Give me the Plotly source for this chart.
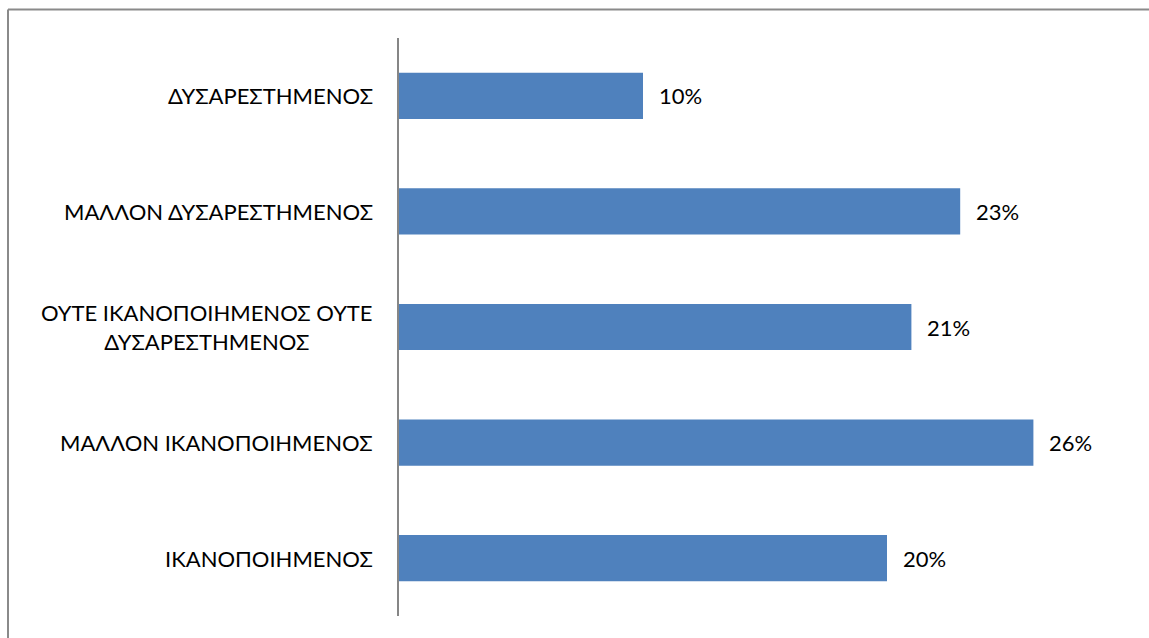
import plotly.graph_objects as go

# Survey satisfaction shares, listed bottom to top
categories = [
    "ΙΚΑΝΟΠΟΙΗΜΕΝΟΣ",
    "ΜΑΛΛΟΝ ΙΚΑΝΟΠΟΙΗΜΕΝΟΣ",
    "ΟΥΤΕ ΙΚΑΝΟΠΟΙΗΜΕΝΟΣ ΟΥΤΕ<br>ΔΥΣΑΡΕΣΤΗΜΕΝΟΣ",
    "ΜΑΛΛΟΝ ΔΥΣΑΡΕΣΤΗΜΕΝΟΣ",
    "ΔΥΣΑΡΕΣΤΗΜΕΝΟΣ",
]
values = [20, 26, 21, 23, 10]
value_labels = ["20%", "26%", "21%", "23%", "10%"]

W, H = 1149, 638
L, R, T, B = 399, 18, 38, 22
pw, ph = W - L - R, H - T - B

FONT = "Lato, Carlito, Calibri, sans-serif"

fig = go.Figure(
    go.Bar(
        x=values,
        y=list(range(len(categories))),
        orientation="h",
        marker=dict(color="#4F81BD", line=dict(width=0)),
        width=0.4,
        hoverinfo="skip",
    )
)

annotations = []
for i, (cat, v, lab) in enumerate(zip(categories, values, value_labels)):
    annotations.append(dict(
        x=0, xref="paper", y=i, yref="y", text=cat, showarrow=False,
        xanchor="right", yanchor="middle", align="center", xshift=-24,
        font=dict(family=FONT, size=22, color="#000000"),
    ))
    annotations.append(dict(
        x=v, xref="x", y=i, yref="y", text=lab, showarrow=False,
        xanchor="left", yanchor="middle", xshift=14,
        font=dict(family=FONT, size=22, color="#000000"),
    ))

# chart-area frame (left and top edges)
fx = (8 - L) / pw
fy = (H - B - 9.5) / ph
shapes = [
    dict(type="line", xref="paper", yref="paper", x0=fx, x1=fx, y0=fy, y1=-0.2,
         line=dict(color="#8a8a8a", width=2)),
    dict(type="line", xref="paper", yref="paper", x0=fx, x1=1.2, y0=fy, y1=fy,
         line=dict(color="#8a8a8a", width=2)),
]

fig.update_layout(
    width=W, height=H,
    margin=dict(l=L, r=R, t=T, b=B, pad=0),
    paper_bgcolor="white", plot_bgcolor="white",
    showlegend=False,
    xaxis=dict(range=[0, 30], visible=False, fixedrange=True),
    yaxis=dict(range=[-0.5, 4.5], showticklabels=False, showgrid=False,
               zeroline=False, showline=True, linecolor="#868686", linewidth=1.5,
               ticks="", fixedrange=True),
    annotations=annotations,
    shapes=shapes,
)

fig.write_html("out.html")
